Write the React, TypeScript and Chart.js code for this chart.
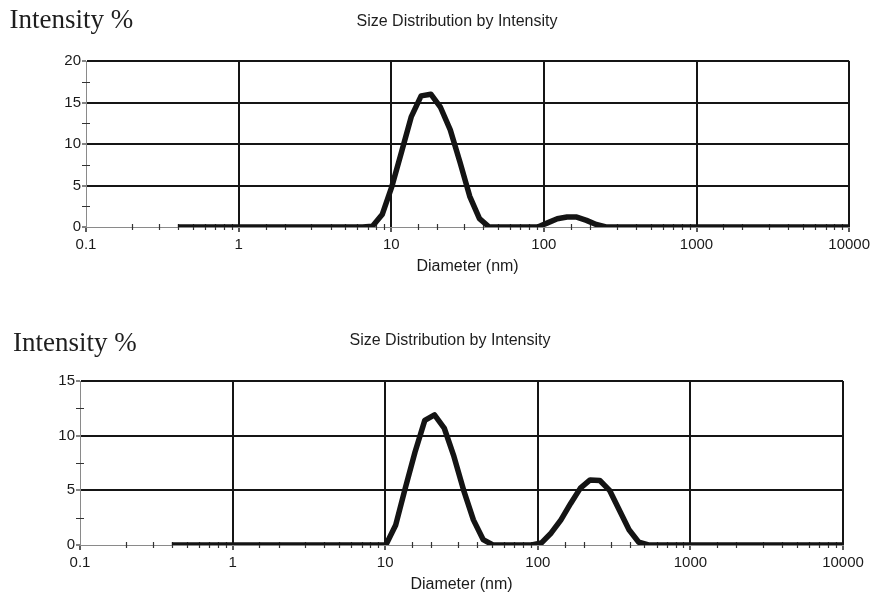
import React, { useEffect, useRef } from 'react';
import { Chart, registerables } from 'chart.js';

Chart.register(...registerables);

// Size classes (nm)
const SIZES_NM = [
  0.4, 0.4632, 0.5365, 0.6213, 0.7195, 0.8332, 0.9649, 1.117, 1.294, 1.499,
  1.736, 2.01, 2.328, 2.696, 3.122, 3.615, 4.187, 4.849, 5.615, 6.503,
  7.531, 8.721, 10.1, 11.7, 13.54, 15.69, 18.17, 21.04, 24.36, 28.21,
  32.67, 37.84, 43.82, 50.75, 58.77, 68.06, 78.82, 91.28, 105.7, 122.4,
  141.8, 164.2, 190.1, 220.2, 255.0, 295.3, 342.0, 396.1, 458.7, 531.2,
  615.1, 712.4, 825.0, 955.4, 1106, 1281, 1484, 1718, 1990, 2305,
  2669, 3091, 3580, 4145, 4801, 5560, 6439, 7456, 8635, 10000,
];

// Intensity % — upper chart
const INTENSITY_TOP = [
  0, 0, 0, 0, 0, 0, 0, 0, 0, 0,
  0, 0, 0, 0, 0, 0, 0, 0, 0, 0,
  0.1, 1.5, 4.9, 9.1, 13.3, 15.8, 16.0, 14.4, 11.7, 7.8,
  3.7, 1.0, 0, 0, 0, 0, 0, 0, 0.5, 1.0,
  1.2, 1.2, 0.8, 0.3, 0, 0, 0, 0, 0, 0,
  0, 0, 0, 0, 0, 0, 0, 0, 0, 0,
  0, 0, 0, 0, 0, 0, 0, 0, 0, 0,
];

// Intensity % — lower chart
const INTENSITY_BOTTOM = [
  0, 0, 0, 0, 0, 0, 0, 0, 0, 0,
  0, 0, 0, 0, 0, 0, 0, 0, 0, 0,
  0, 0, 0, 1.8, 5.2, 8.5, 11.4, 11.9, 10.7, 8.1,
  5.0, 2.3, 0.5, 0, 0, 0, 0, 0, 0.2, 1.1,
  2.3, 3.8, 5.2, 5.95, 5.9, 5.0, 3.2, 1.4, 0.25, 0,
  0, 0, 0, 0, 0, 0, 0, 0, 0, 0,
  0, 0, 0, 0, 0, 0, 0, 0, 0, 0,
];

const X_TICK_LABELS = ['0.1', '1', '10', '100', '1000', '10000'];
const X_MIN = 0.1;
const X_MAX = 10000;
const Y_MAX_TOP = 20;
const Y_MAX_BOTTOM = 15;
const Y_MAJOR_STEP = 5;
const Y_MINOR_STEP = 2.5;

const CHART_TITLE = 'Size Distribution by Intensity';
const Y_LABEL = 'Intensity %';
const X_LABEL = 'Diameter (nm)';

const SANS = '"Liberation Sans", Arial, sans-serif';
const SERIF = '"Liberation Serif", "Times New Roman", serif';

const isDecade = (v: number) => {
  const l = Math.log10(v);
  return Math.abs(l - Math.round(l)) < 1e-6;
};
const isYMajor = (v: number) => Math.abs(v / Y_MAJOR_STEP - Math.round(v / Y_MAJOR_STEP)) < 1e-6;

// Minor tick marks that cross the axis lines, drawn under the data line
const minorTicksPlugin = {
  id: 'minorTicks',
  beforeDatasetsDraw(chart: any) {
    const { ctx, chartArea, scales } = chart;
    ctx.save();
    ctx.strokeStyle = '#333';
    ctx.lineWidth = 1.2;
    ctx.beginPath();
    for (const t of scales.x.ticks) {
      if (isDecade(t.value)) continue;
      const px = Math.round(scales.x.getPixelForValue(t.value)) + 0.5;
      ctx.moveTo(px, chartArea.bottom - 3);
      ctx.lineTo(px, chartArea.bottom + 3);
    }
    for (const t of scales.y.ticks) {
      if (isYMajor(t.value)) continue;
      const py = Math.round(scales.y.getPixelForValue(t.value)) + 0.5;
      ctx.moveTo(chartArea.left - 4, py);
      ctx.lineTo(chartArea.left + 4, py);
    }
    ctx.stroke();
    ctx.restore();
  },
};

type Area = { left: number; right: number; top: number; bottom: number };

function DistChart(props: {
  values: number[];
  yMax: number;
  width: number;
  height: number;
  area: Area;
  xTitlePad: number;
  style: React.CSSProperties;
}) {
  const ref = useRef<HTMLCanvasElement | null>(null);
  const { values, yMax, width, height, area, xTitlePad, style } = props;

  useEffect(() => {
    if (!ref.current) return;
    const chart = new Chart(ref.current, {
      type: 'line',
      data: {
        datasets: [
          {
            data: SIZES_NM.map((x, i) => ({ x, y: values[i] })),
            borderColor: '#141414',
            borderWidth: 5.5,
            pointRadius: 0,
            tension: 0,
            borderJoinStyle: 'round',
            borderCapStyle: 'butt',
            fill: false,
          },
        ],
      },
      plugins: [minorTicksPlugin],
      options: {
        responsive: false,
        animation: false,
        devicePixelRatio: 1,
        layout: {
          padding: { left: 0, right: width - area.right, top: area.top, bottom: 0 },
        },
        plugins: {
          legend: { display: false },
          tooltip: { enabled: false },
          title: { display: false },
        },
        scales: {
          x: {
            type: 'logarithmic',
            min: X_MIN,
            max: X_MAX,
            afterFit: (s: any) => {
              s.height = height - area.bottom;
            },
            grid: {
              color: (ctx: any) => {
                const v = ctx.tick ? ctx.tick.value : 0;
                return isDecade(v) && v > X_MIN * 1.01 ? '#151515' : 'rgba(0,0,0,0)';
              },
              lineWidth: 2,
              tickColor: (ctx: any) => {
                const v = ctx.tick ? ctx.tick.value : 0;
                return isDecade(v) ? '#222' : 'rgba(0,0,0,0)';
              },
              tickLength: 5,
              tickWidth: 1.5,
            },
            border: { display: true, color: '#8a8a8a', width: 1 },
            ticks: {
              autoSkip: false,
              maxRotation: 0,
              minRotation: 0,
              padding: 4,
              color: '#1a1a1a',
              font: { size: 15, family: SANS },
              callback: (v: any) => {
                const n = Number(v);
                return isDecade(n) ? X_TICK_LABELS[Math.round(Math.log10(n)) + 1] : '';
              },
            },
            title: {
              display: true,
              text: X_LABEL,
              color: '#1a1a1a',
              font: { size: 16, family: SANS },
              padding: { top: 0, bottom: xTitlePad },
            },
          },
          y: {
            type: 'linear',
            min: 0,
            max: yMax,
            afterFit: (s: any) => {
              s.width = area.left;
            },
            grid: {
              color: (ctx: any) => {
                const v = ctx.tick ? ctx.tick.value : 0;
                return v > 0 && isYMajor(v) ? '#151515' : 'rgba(0,0,0,0)';
              },
              lineWidth: 2,
              tickColor: (ctx: any) => {
                const v = ctx.tick ? ctx.tick.value : 0;
                return isYMajor(v) ? '#333' : 'rgba(0,0,0,0)';
              },
              tickLength: 4,
              tickWidth: 1.2,
            },
            border: { display: true, color: '#8a8a8a', width: 1 },
            ticks: {
              stepSize: Y_MINOR_STEP,
              autoSkip: false,
              padding: 1,
              color: '#1a1a1a',
              font: { size: 15, family: SANS },
              callback: (v: any) => (isYMajor(Number(v)) ? String(v) : ''),
            },
          },
        },
      } as any,
    });
    return () => chart.destroy();
  }, [values, yMax, width, height, area, xTitlePad]);

  return <canvas ref={ref} width={width} height={height} style={{ position: 'absolute', ...style }} />;
}

const AREA_TOP: Area = { left: 86, right: 850, top: 61, bottom: 227 };
const AREA_BOTTOM: Area = { left: 80, right: 843, top: 81, bottom: 245 };

export default function App() {
  const yLabelStyle: React.CSSProperties = {
    position: 'absolute',
    fontFamily: SERIF,
    fontSize: 27,
    lineHeight: '27px',
    color: '#1e1e1e',
    whiteSpace: 'nowrap',
  };
  const titleStyle: React.CSSProperties = {
    position: 'absolute',
    fontFamily: SANS,
    fontSize: 16,
    lineHeight: '16px',
    color: '#1e1e1e',
    whiteSpace: 'nowrap',
    transform: 'translateX(-50%)',
  };
  return (
    <div style={{ position: 'fixed', left: 0, top: 0, width: 874, height: 601, background: '#fff', overflow: 'hidden' }}>
      <DistChart
        values={INTENSITY_TOP}
        yMax={Y_MAX_TOP}
        width={874}
        height={300}
        area={AREA_TOP}
        xTitlePad={24}
        style={{ left: 0, top: 0 }}
      />
      <DistChart
        values={INTENSITY_BOTTOM}
        yMax={Y_MAX_BOTTOM}
        width={874}
        height={301}
        area={AREA_BOTTOM}
        xTitlePad={7}
        style={{ left: 0, top: 300 }}
      />
      <div style={{ ...yLabelStyle, left: 9.5, top: 6 }}>{Y_LABEL}</div>
      <div style={{ ...titleStyle, left: 457, top: 12.5 }}>{CHART_TITLE}</div>
      <div style={{ ...yLabelStyle, left: 13, top: 329 }}>{Y_LABEL}</div>
      <div style={{ ...titleStyle, left: 450, top: 332 }}>{CHART_TITLE}</div>
    </div>
  );
}
